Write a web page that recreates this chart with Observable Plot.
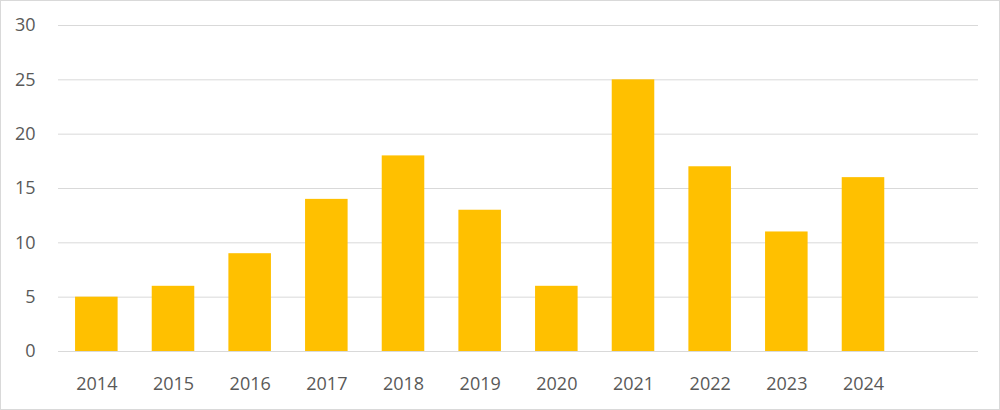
<!DOCTYPE html>
<html>
<head>
<meta charset="utf-8">
<script src="https://cdn.jsdelivr.net/npm/d3@7"></script>
<script src="https://cdn.jsdelivr.net/npm/@observablehq/plot@0.6"></script>
<style>
  html, body { margin: 0; padding: 0; background: #fff; }
  #wrap { position: relative; width: 1000px; height: 410px; }
  #border { position: absolute; left: 0; top: 0; width: 1000px; height: 410px; box-sizing: border-box; border: 1px solid #d9d9d9; pointer-events: none; }
</style>
</head>
<body>
<div id="wrap"><div id="chart"></div><div id="border"></div></div>
<script>
const years = ["2014", "2015", "2016", "2017", "2018", "2019", "2020", "2021", "2022", "2023", "2024"];
const values = [5, 6, 9, 14, 18, 13, 6, 25, 17, 11, 16];
const emptySlot = [""]; // trailing empty category on the axis
const yTicks = [0, 5, 10, 15, 20, 25, 30];

const data = years.map((y, i) => ({year: y, value: values[i]}));
const pad = 0.445;

const chart = Plot.plot({
  width: 1000,
  height: 410,
  marginLeft: 58,
  marginRight: 22,
  marginTop: 25,
  marginBottom: 59,
  style: {fontFamily: "'Open Sans', sans-serif", fontSize: "18px", color: "#595959", background: "transparent"},
  x: {domain: [...years, ...emptySlot], paddingInner: pad, paddingOuter: pad / 2, round: false, label: null},
  y: {domain: [0, 30], ticks: yTicks, label: null},
  marks: [
    Plot.gridY(yTicks, {stroke: "#d9d9d9", strokeOpacity: 1, strokeWidth: 1}),
    Plot.barY(data, {x: "year", y: "value", fill: "#FFC000"}),
    Plot.axisX({tickSize: 0, tickPadding: 26, fill: "#595959", fontSize: 18}),
    Plot.axisY({ticks: yTicks, tickSize: 0, tickPadding: 23, fill: "#595959", fontSize: 18})
  ]
});
document.getElementById("chart").appendChild(chart);
</script>
</body>
</html>
